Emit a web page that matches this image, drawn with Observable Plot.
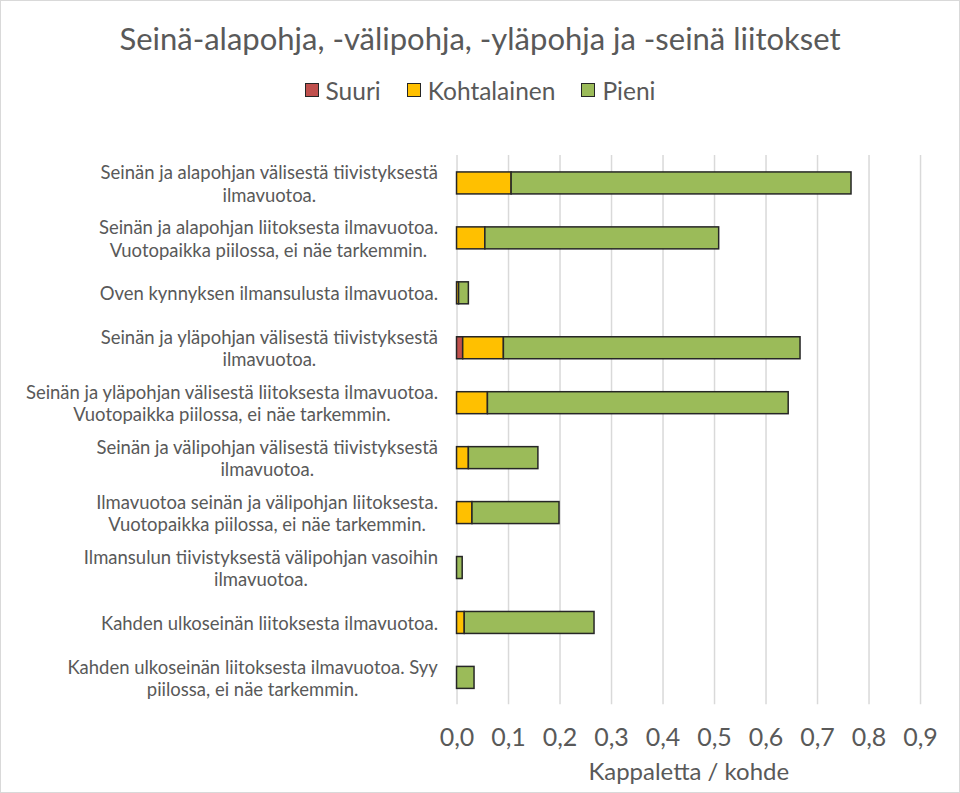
<!DOCTYPE html>
<html><head><meta charset="utf-8">
<script src="https://cdn.jsdelivr.net/npm/d3@7"></script>
<script src="https://cdn.jsdelivr.net/npm/@observablehq/plot@0.6"></script>
<style>
body{margin:0;background:#fff;}
#chart{position:relative;width:958px;height:791px;border:1px solid #d9d9d9;font-family:Lato,"Open Sans",sans-serif;color:#595959;overflow:hidden;background:#fff}
#title{position:absolute;left:0;right:0;top:15px;text-align:center;font-size:31px;line-height:44px;white-space:nowrap}
#legend{position:absolute;left:0;right:0;top:74px;height:30px;display:flex;justify-content:center;align-items:center;font-size:24.5px;white-space:nowrap}
#legend .item{display:flex;align-items:center;margin:0 13px}
#legend .sw{width:14px;height:14px;border:1px solid #262626;margin-right:7px;box-sizing:border-box}
#plot{position:absolute;left:-1px;top:114px}
</style>
</head><body>
<div id="chart">
  <div id="title">Seinä-alapohja, -välipohja, -yläpohja ja -seinä liitokset</div>
  <div id="legend"></div>
  <div id="plot"></div>
</div>
<script>
const categories = [
  "Seinän ja alapohjan välisestä tiivistyksestä\nilmavuotoa.",
  "Seinän ja alapohjan liitoksesta ilmavuotoa.\nVuotopaikka piilossa, ei näe tarkemmin.",
  "Oven kynnyksen ilmansulusta ilmavuotoa.",
  "Seinän ja yläpohjan välisestä tiivistyksestä\nilmavuotoa.",
  "Seinän ja yläpohjan välisestä liitoksesta ilmavuotoa.\nVuotopaikka piilossa, ei näe tarkemmin.",
  "Seinän ja välipohjan välisestä tiivistyksestä\nilmavuotoa.",
  "Ilmavuotoa seinän ja välipohjan liitoksesta.\nVuotopaikka piilossa, ei näe tarkemmin.",
  "Ilmansulun tiivistyksestä välipohjan vasoihin\nilmavuotoa.",
  "Kahden ulkoseinän liitoksesta ilmavuotoa.",
  "Kahden ulkoseinän liitoksesta ilmavuotoa. Syy\npiilossa, ei näe tarkemmin."
];
const seriesNames = ["Suuri", "Kohtalainen", "Pieni"];
const seriesColors = ["#C0504D", "#FFC000", "#9BBB59"];
const suuri       = [0,     0,     0,     0.012, 0,     0,     0,     0,     0,     0];
const kohtalainen = [0.106, 0.055, 0.004, 0.079, 0.060, 0.023, 0.030, 0,     0.015, 0];
const pieni       = [0.660, 0.454, 0.019, 0.576, 0.584, 0.135, 0.169, 0.011, 0.252, 0.034];
const xTicks = [0, 0.1, 0.2, 0.3, 0.4, 0.5, 0.6, 0.7, 0.8, 0.9];
const xTitle = "Kappaletta / kohde";

const seriesValues = [suuri, kohtalainen, pieni];
const data = [];
categories.forEach((c, i) => {
  seriesNames.forEach((s, j) => {
    data.push({category: c, series: s, value: seriesValues[j][i]});
  });
});
const barData = data.filter(d => d.value > 0);

// legend
const legend = document.getElementById("legend");
seriesNames.forEach((s, j) => {
  const it = document.createElement("div"); it.className = "item";
  const sw = document.createElement("div"); sw.className = "sw"; sw.style.background = seriesColors[j];
  const tx = document.createElement("span"); tx.textContent = s;
  it.appendChild(sw); it.appendChild(tx); legend.appendChild(it);
});

const fmt = v => d3.format(".1f")(v).replace(".", ",");

const chart = Plot.plot({
  width: 960,
  height: 678,
  marginTop: 40,
  marginBottom: 88,
  marginLeft: 457,
  marginRight: 39,
  style: {color: "#595959", fontFamily: "Lato, 'Open Sans', sans-serif", background: "transparent"},
  x: {domain: [0, 0.9]},
  y: {domain: categories, paddingInner: 0.6, paddingOuter: 0.3},
  color: {domain: seriesNames, range: seriesColors},
  marks: [
    Plot.ruleX(xTicks, {stroke: "#d9d9d9", strokeWidth: 1.5}),
    Plot.barX(barData, Plot.stackX({x: "value", y: "category", fill: "series", order: seriesNames, stroke: "#262626", strokeWidth: 1.5})),
    Plot.axisX({ticks: xTicks, tickFormat: fmt, tickSize: 0, tickPadding: 23, fontSize: 25, label: null}),
    Plot.text([xTitle], {frameAnchor: "bottom", dy: 75, fontSize: 24, fill: "#595959"}),
    Plot.axisY({tickSize: 0, tickPadding: 19, fontSize: 18.5, lineHeight: 1.2, label: null})
  ]
});
document.getElementById("plot").appendChild(chart);

// center the lines of each category label within its right-aligned block
chart.querySelectorAll('g[aria-label="y-axis tick label"] text').forEach(t => {
  const w = t.getBBox().width;
  t.setAttribute("text-anchor", "middle");
  const spans = t.querySelectorAll("tspan");
  if (spans.length) {
    spans.forEach(sp => {
      const x0 = parseFloat(sp.getAttribute("x") || "0");
      sp.setAttribute("x", x0 - w / 2);
    });
  } else {
    const x0 = parseFloat(t.getAttribute("x") || "0");
    t.setAttribute("x", x0 - w / 2);
  }
});
</script>
</body></html>
